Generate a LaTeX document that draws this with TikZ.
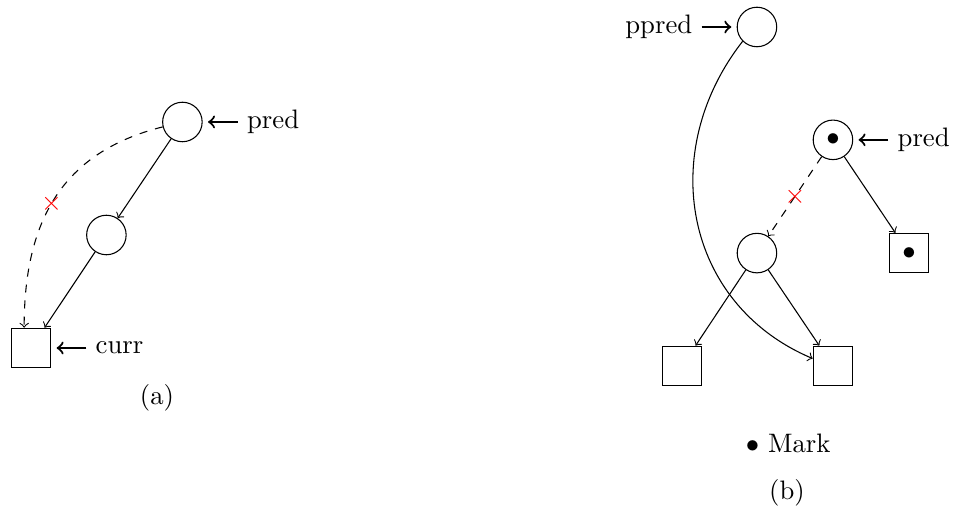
\documentclass[tikz,border=0pt]{standalone}
\usetikzlibrary{positioning}

\begin{document}
\begin{tikzpicture}[
        listnode/.style={circle, draw, minimum size=5.2mm, inner sep=0pt},
        leafnode/.style={rectangle, draw, minimum size=5.2mm, inner sep=0pt},
        pointer/.style={thick, ->, shorten >=2pt},
        cutmark/.style={text=red, inner sep=0pt},
        node distance=4.6mm,
]
        \useasboundingbox (0,0) rectangle (12.566,-6.75);

        % (a)
        \node[listnode] (apred) at (2.4,-1.605) {};
        \node[listnode] (amid) at (1.4,-3.092) {};
        \node[leafnode] (acurr) at (0.408,-4.579) {};
        \node (lapred) [right=of apred] {pred};
        \node (lacurr) [right=of acurr] {curr};
        \node (capa) at (2.066,-5.237) {(a)};
        \draw[pointer] (lapred.west) -- (apred.east);
        \draw[pointer] (lacurr.west) -- (acurr.east);
        \draw[->] (apred) -- (amid);
        \draw[->] (amid) -- (acurr);
        \draw[dashed, ->] (apred.194) to[out=194, in=90, looseness=1.1]
            node[cutmark, pos=0.53] (acut) {$\times$} ([xshift=-0.09cm]acurr.north);

        % (b)
        \node[listnode] (bppred) at (9.96,-0.355) {};
        \node[listnode] (bpred) at (10.96,-1.84) {$\bullet$};
        \node[listnode] (bmid) at (9.96,-3.33) {};
        \node[leafnode] (bmark) at (11.96,-3.33) {$\bullet$};
        \node[leafnode] (bleft) at (8.975,-4.815) {};
        \node[leafnode] (bright) at (10.96,-4.815) {};
        \node (lbppred) [left=of bppred] {ppred};
        \node (lbpred) [right=of bpred] {pred};
        \node (legend) at (10.37,-5.83) {$\bullet$ Mark};
        \node (capb) at (10.355,-6.487) {(b)};
        \draw[pointer] (lbppred.east) -- (bppred.west);
        \draw[pointer] (lbpred.west) -- (bpred.east);
        \draw[->] (bpred) -- (bmark);
        \draw[->] (bmid) -- (bleft);
        \draw[->] (bmid) -- (bright);
        \draw[dashed, ->] (bpred) -- (bmid) node[cutmark, midway] (bcut) {$\times$};
        \draw[->] (bppred.225) to[out=232, in=157, looseness=1.1] (bright.160);
\end{tikzpicture}
\end{document}
